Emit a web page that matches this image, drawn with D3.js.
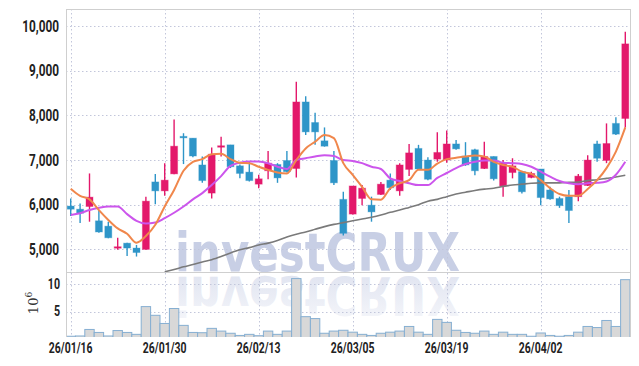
<!DOCTYPE html>
<html>
<head>
<meta charset="utf-8">
<script src="https://cdn.jsdelivr.net/npm/d3@7/dist/d3.min.js"></script>
<style>
body { margin: 0; background: #fff; }
svg { display: block; }
.tick text { font-family: "Roboto", sans-serif; font-weight: 700; fill: #222; }
</style>
</head>
<body>
<div class="chart"></div>
<script>
// Trading days (yy/mm/dd)
var dates = ["26/01/16","26/01/19","26/01/20","26/01/21","26/01/22","26/01/23","26/01/26","26/01/27","26/01/28","26/01/29",
    "26/01/30","26/02/02","26/02/03","26/02/04","26/02/05","26/02/06","26/02/09","26/02/10","26/02/11","26/02/12",
    "26/02/13","26/02/19","26/02/20","26/02/23","26/02/24","26/02/25","26/02/26","26/02/27","26/03/03","26/03/04",
    "26/03/05","26/03/06","26/03/09","26/03/10","26/03/11","26/03/12","26/03/13","26/03/16","26/03/17","26/03/18",
    "26/03/19","26/03/20","26/03/23","26/03/24","26/03/25","26/03/26","26/03/27","26/03/30","26/03/31","26/04/01",
    "26/04/02","26/04/03","26/04/06","26/04/07","26/04/08","26/04/09","26/04/10","26/04/13","26/04/14","26/04/15"];

var opens  = [5970,5900,5960,5640,5520,5040,5140,5030,5000,6510, 6310,6690,7530,7490,6890,6260,7300,7340,6870,6730,
              6460,6760,6900,6990,6810,8300,7840,7430,6990,6120, 5790,6140,5990,6230,6550,6310,6790,7260,7000,7020,
              7000,7360,7090,7230,6810,7080,6420,6720,6740,6610, 6800,6330,6140,6180,6180,6430,7360,6990,7820,7930];
var highs  = [6140,6030,6700,5880,5620,5260,5150,5100,6180,6690, 6930,7910,7600,7490,7080,7280,7520,7340,6900,6960,
              6670,7200,6930,7200,8750,8430,8060,7730,7200,6290, 6420,6440,6180,6510,6700,6930,7360,7340,7060,7620,
              7660,7450,7400,7250,7410,7080,7000,7040,6760,6740, 6800,6400,6180,6330,6690,7110,7430,7820,7960,9870];
var lows   = [5750,5590,5620,5370,5250,4990,4850,4840,4990,6010, 6200,6680,6910,7060,6490,6140,7080,6820,6590,6520,
              6370,6570,6490,6720,6610,7560,7340,7300,6440,5310, 5780,5990,5620,6220,6330,6200,6640,6780,6550,6960,
              6940,7230,6870,6660,6800,6540,6180,6590,6250,6590, 5990,6110,5930,5590,6080,6420,6960,6930,7560,7730];
var closes = [5900,5810,6170,5390,5260,5060,5030,4930,6080,6310, 6550,7310,7520,7090,6540,7130,7320,6850,6700,6540,
              6580,6930,6600,6740,8300,7630,7630,7310,6490,5360, 6420,6370,5840,6460,6380,6890,7160,6800,6570,7170,
              7360,7250,6890,6760,7080,6580,6940,6870,6290,6700, 6160,6130,5980,5870,6640,7000,7040,7370,7580,9600];

// Moving averages (MA5 orange, MA20 purple, long MA gray)
var ma5  = [6360,6200,6120,5880,5660,5470,5350,5150,5300,5550, 5960,6330,6760,6960,7020,7130,7140,7020,6940,6930,
            6850,6780,6720,6700,7000,7260,7410,7560,7490,6930, 6670,6400,6120,6110,6370,6480,6550,6780,6780,6920,
            7020,7050,7080,7100,7080,6960,6890,6850,6740,6690, 6550,6370,6240,6200,6200,6350,6550,6820,7190,7730];
var ma20 = [5770,5810,5880,5930,5960,5960,5790,5640,5580,5600, 5700,5820,5960,6120,6260,6440,6640,6870,6940,6970,
            6970,6930,6850,6800,7000,7040,7080,7110,7090,7000, 6980,6930,6850,6800,6590,6530,6480,6440,6440,6600,
            6710,6820,6910,6960,6990,6990,6940,6930,6910,6850, 6740,6630,6530,6480,6460,6480,6490,6520,6670,6960];
var maLong = [null,null,null,null,null,null,null,null,null,null, 4500,4550,4610,4660,4720,4770,4840,4920,4990,5040,
              5100,5140,5200,5280,5340,5390,5450,5510,5560,5600, 5640,5680,5720,5770,5830,5880,5940,6000,6080,6120,
              6180,6240,6280,6320,6350,6370,6410,6440,6460,6480, 6490,6490,6490,6500,6510,6540,6560,6590,6620,6660];

// Volume in millions of shares
var volumes = [0.45,0.5,1.7,1.15,0.5,1.5,1.15,0.8,5.9,4.3, 2.8,5.55,2.45,1.15,1.1,1.9,1.4,1.0,0.6,0.8,
               0.55,1.4,0.8,1.4,11.05,4.05,3.7,1.0,1.4,1.55, 1.2,0.8,0.6,1.0,1.2,1.4,2.25,1.2,0.8,3.55,
               3.0,1.55,1.15,1.0,1.4,0.8,1.2,0.8,0.8,0.45, 1.05,0.6,0.45,0.6,1.2,2.25,2.05,3.35,2.25,10.85];

var priceTicks = [5000, 6000, 7000, 8000, 9000, 10000];
var volTicks = [5, 10];
var dateTicks = ["26/01/16","26/01/30","26/02/13","26/03/05","26/03/19","26/04/02"];

// SVG Dimensions
var svgWidth = 639;
var svgHeight = 366;
var plot = { left: 66, right: 630, top: 9, split: 272, bottom: 337 };

var upColor = "#e3186b";
var downColor = "#2e95c8";
var gridColor = "#c2c6db";
var borderColor = "#cfcfcf";

var svg = d3.select(".chart")
    .append("svg")
    .attr("width", svgWidth)
    .attr("height", svgHeight);

// Scales
var xScale = d3.scaleBand()
    .domain(dates)
    .range([plot.left, plot.right]);
var xc = d => xScale(d) + xScale.bandwidth() / 2;

var yPrice = d3.scaleLinear()
    .domain([5000, 10000])
    .range([249.4, 26]);

var yVol = d3.scaleLinear()
    .domain([0, 10])
    .range([338.7, 284.3]);

// Clip paths for the two panels
var defs = svg.append("defs");
defs.append("clipPath").attr("id", "clipPrice")
    .append("rect")
    .attr("x", plot.left).attr("y", plot.top)
    .attr("width", plot.right - plot.left).attr("height", plot.split - plot.top);
defs.append("clipPath").attr("id", "clipVol")
    .append("rect")
    .attr("x", plot.left).attr("y", plot.split + 1)
    .attr("width", plot.right - plot.left).attr("height", plot.bottom - plot.split - 1);

// Reflection fades out downwards
var fade = defs.append("linearGradient").attr("id", "fade")
    .attr("x1", 0).attr("y1", 0).attr("x2", 0).attr("y2", 1);
fade.append("stop").attr("offset", "0%").attr("stop-color", "#c6cde4").attr("stop-opacity", 0.15);
fade.append("stop").attr("offset", "100%").attr("stop-color", "#c6cde4").attr("stop-opacity", 0.6);

// Watermark and its reflection
var mark = svg.append("g").attr("class", "watermark");
mark.append("text")
    .attr("x", 175).attr("y", 271)
    .attr("textLength", 285).attr("lengthAdjust", "spacingAndGlyphs")
    .style("font-family", "DejaVu Sans, sans-serif")
    .style("font-weight", "bold").style("font-size", "53px")
    .attr("fill", "#c8cfe5")
    .text("investCRUX");
mark.append("g")
    .attr("clip-path", "url(#clipVol)")
    .append("text")
    .attr("transform", "translate(0," + (2 * 274) + ") scale(1,-1)")
    .attr("x", 175).attr("y", 271)
    .attr("textLength", 285).attr("lengthAdjust", "spacingAndGlyphs")
    .style("font-family", "DejaVu Sans, sans-serif")
    .style("font-weight", "bold").style("font-size", "53px")
    .attr("fill", "url(#fade)")
    .text("investCRUX");

// Grid lines
var grid = svg.append("g").attr("class", "grid")
    .attr("stroke", gridColor).attr("stroke-dasharray", "1.5,2.5").attr("stroke-width", 1);

grid.selectAll(".hp").data(priceTicks).enter().append("line")
    .attr("x1", plot.left).attr("x2", plot.right)
    .attr("y1", d => Math.round(yPrice(d)) + 0.5).attr("y2", d => Math.round(yPrice(d)) + 0.5);

grid.selectAll(".hv").data(volTicks).enter().append("line")
    .attr("x1", plot.left).attr("x2", plot.right)
    .attr("y1", d => Math.round(yVol(d)) + 0.5).attr("y2", d => Math.round(yVol(d)) + 0.5);

grid.selectAll(".vx").data(dateTicks).enter().append("line")
    .attr("x1", d => Math.round(xc(d)) + 0.5).attr("x2", d => Math.round(xc(d)) + 0.5)
    .attr("y1", plot.top).attr("y2", plot.bottom);

// Volume bars
svg.append("g")
    .attr("clip-path", "url(#clipVol)")
    .selectAll("rect")
    .data(dates)
    .enter()
    .append("rect")
    .attr("x", d => xScale(d))
    .attr("y", (d, i) => yVol(volumes[i]))
    .attr("width", xScale.bandwidth())
    .attr("height", (d, i) => yVol(0) - yVol(volumes[i]))
    .attr("fill", "#d8d8d8")
    .attr("stroke", "#86afd2")
    .attr("stroke-width", 1);

// Candles
var candleGroup = svg.append("g").attr("clip-path", "url(#clipPrice)");
var bodyWidth = 7;
var candles = candleGroup.selectAll("g")
    .data(dates)
    .enter()
    .append("g")
    .attr("fill", (d, i) => closes[i] > opens[i] ? upColor : downColor)
    .attr("stroke", (d, i) => closes[i] > opens[i] ? upColor : downColor);

candles.append("line")
    .attr("x1", d => xc(d)).attr("x2", d => xc(d))
    .attr("y1", (d, i) => yPrice(highs[i]))
    .attr("y2", (d, i) => yPrice(lows[i]))
    .attr("stroke-width", 1.4);

candles.append("rect")
    .attr("x", d => xc(d) - bodyWidth / 2)
    .attr("y", (d, i) => yPrice(Math.max(opens[i], closes[i])))
    .attr("width", bodyWidth)
    .attr("height", (d, i) => Math.max(1.5, Math.abs(yPrice(opens[i]) - yPrice(closes[i]))))
    .attr("stroke-width", 1)
    .attr("stroke-opacity", 0.35);

// Moving average lines
var maGroup = svg.append("g").attr("clip-path", "url(#clipPrice)").attr("fill", "none");
function maLine(values) {
    return d3.line()
        .defined(d => values[dates.indexOf(d)] != null)
        .x(d => xc(d))
        .y(d => yPrice(values[dates.indexOf(d)]))
        .curve(d3.curveMonotoneX)(dates);
}
maGroup.append("path").attr("d", maLine(maLong)).attr("stroke", "#7a7a7a").attr("stroke-width", 1.6);
maGroup.append("path").attr("d", maLine(ma20)).attr("stroke", "#cc55ec").attr("stroke-width", 2);
maGroup.append("path").attr("d", maLine(ma5)).attr("stroke", "#f0874c").attr("stroke-width", 2);

// Panel borders
var border = svg.append("g").attr("stroke", borderColor).attr("stroke-width", 1);
border.append("line").attr("x1", plot.left + 0.5).attr("x2", plot.left + 0.5).attr("y1", plot.top).attr("y2", plot.bottom);
border.append("line").attr("x1", plot.right + 0.5).attr("x2", plot.right + 0.5).attr("y1", plot.top).attr("y2", plot.bottom);
border.append("line").attr("x1", plot.left).attr("x2", plot.right).attr("y1", plot.top + 0.5).attr("y2", plot.top + 0.5);
border.append("line").attr("x1", plot.left).attr("x2", plot.right).attr("y1", plot.split + 0.5).attr("y2", plot.split + 0.5);

// Axes
var yAxis = d3.axisLeft(yPrice).tickValues(priceTicks).tickFormat(d3.format(",")).tickSize(0).tickPadding(0);
var gy = svg.append("g").attr("transform", "translate(59,0)").call(yAxis);
gy.selectAll("text").style("font-size", "16px").attr("transform", "scale(0.74,1)");

var vAxis = d3.axisLeft(yVol).tickValues(volTicks).tickFormat(d3.format("d")).tickSize(0).tickPadding(0);
var gv = svg.append("g").attr("transform", "translate(60,0)").call(vAxis);
gv.selectAll("text").style("font-size", "14px").attr("transform", "scale(0.76,1)");

var xAxis = d3.axisBottom(xScale).tickValues(dateTicks).tickSize(0).tickPadding(0);
var gx = svg.append("g").attr("transform", "translate(0,343)").call(xAxis);
gx.selectAll("text").style("font-size", "14.5px").attr("transform", "scale(0.72,1)");

[gy, gv, gx].forEach(g => g.select(".domain").remove());

// Volume unit label
var unit = svg.append("text")
    .attr("transform", "translate(38,303) rotate(-90)")
    .attr("text-anchor", "middle")
    .style("font-family", "DejaVu Serif, serif")
    .style("font-size", "13px")
    .attr("fill", "#333");
unit.append("tspan").text("10");
unit.append("tspan").attr("dy", "-6").style("font-size", "9px").text("6");
</script>
</body>
</html>
